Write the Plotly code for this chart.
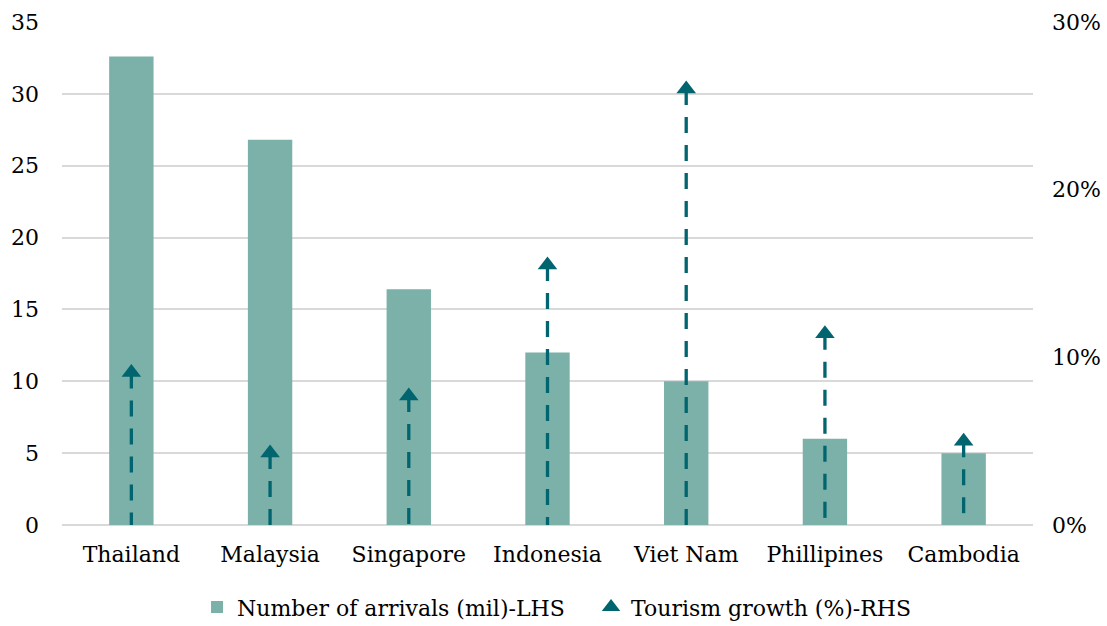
import plotly.graph_objects as go

# Data
countries = ["Thailand", "Malaysia", "Singapore", "Indonesia", "Viet Nam", "Phillipines", "Cambodia"]
arrivals_mil = [32.6, 26.8, 16.4, 12.0, 10.0, 6.0, 5.0]
growth_pct = [9.1, 4.3, 7.7, 15.5, 26.0, 11.4, 5.0]

bar_color = "#7BB1A8"
arrow_color = "#00656F"
font_family = "DejaVu Serif"
font_size = 22

fig = go.Figure()

# Bars: arrivals on the left axis
fig.add_trace(go.Bar(
    x=countries, y=arrivals_mil,
    name="Number of arrivals (mil)-LHS",
    marker=dict(color=bar_color, line=dict(width=0)),
    width=0.32,
))

# Dashed stems from zero up to each growth value (right axis)
stem_x, stem_y = [], []
for c, g in zip(countries, growth_pct):
    stem_x += [c, c, None]
    stem_y += [g, 0, None]
fig.add_trace(go.Scatter(
    x=stem_x, y=stem_y, yaxis="y2", mode="lines",
    line=dict(color=arrow_color, width=3.3, dash="16px,12px"),
    showlegend=False, hoverinfo="skip",
))

# Arrow heads at the growth values
fig.add_trace(go.Scatter(
    x=countries, y=growth_pct, yaxis="y2", mode="markers",
    marker=dict(symbol="triangle-up", size=17, color=arrow_color),
    name="Tourism growth (%)-RHS",
))

fig.update_layout(
    width=1107, height=626,
    margin=dict(l=62, r=74, t=22, b=101, autoexpand=False),
    plot_bgcolor="white", paper_bgcolor="white",
    font=dict(family=font_family, color="#000000", size=font_size),
    showlegend=True,
    legend=dict(
        orientation="h", x=0.178, xref="container", xanchor="left",
        y=0.03, yref="container", yanchor="middle",
        font=dict(size=font_size, family=font_family),
        entrywidth=349, entrywidthmode="pixels",
        traceorder="normal",
    ),
    xaxis=dict(
        showgrid=False, showline=False, zeroline=False,
        tickfont=dict(size=font_size, family=font_family),
        ticks="", ticklabelstandoff=14,
    ),
    yaxis=dict(
        range=[0, 35], dtick=5, showgrid=True,
        gridcolor="#D9D9D9", gridwidth=1.6,
        zeroline=True, zerolinecolor="#D9D9D9", zerolinewidth=1.6,
        showline=False, ticks="", ticklabelstandoff=22,
        tickfont=dict(size=font_size, family=font_family),
    ),
    yaxis2=dict(
        range=[0, 30], dtick=10, overlaying="y", side="right",
        showgrid=False, zeroline=False, showline=False,
        ticksuffix="%", ticks="", ticklabelstandoff=18,
        tickfont=dict(size=font_size, family=font_family),
    ),
)

fig.write_html("out.html")
